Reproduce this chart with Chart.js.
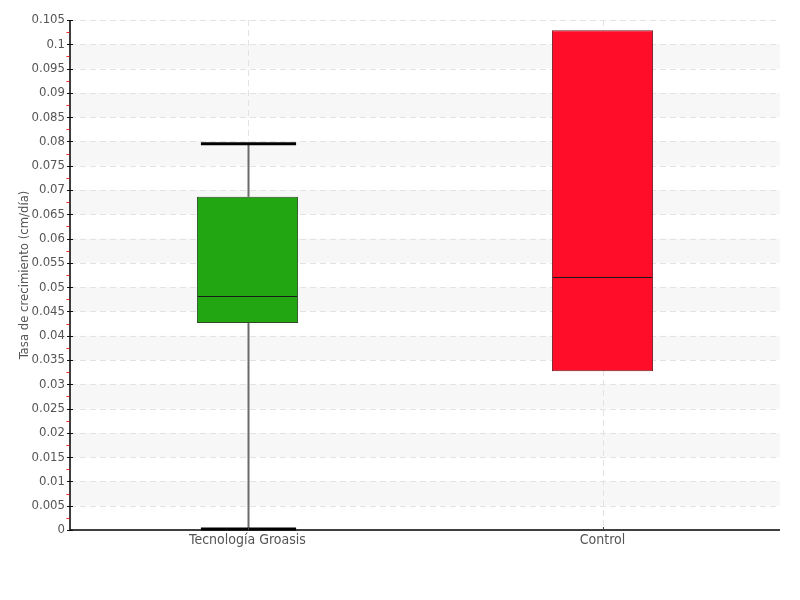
<!DOCTYPE html>
<html>
<head>
<meta charset="utf-8">
<script src="https://cdn.jsdelivr.net/npm/chart.js@4"></script>
<style>
html,body{margin:0;padding:0;background:#fff;}
#wrap{width:800px;height:600px;}
</style>
</head>
<body>
<div id="wrap"><canvas id="c" width="800" height="600"></canvas></div>
<script>
const categories = ["Tecnología Groasis", "Control"];
const q1Values = [0.0426, 0.0327];
const q3Values = [0.0686, 0.1029];
const medianValues = [0.0482, 0.0521];
const whiskerLow = [0.0002, 0.0327];
const whiskerHigh = [0.0795, 0.1029];
const boxColors = ["#22a611", "#ff0d29"];
const boxBorders = ["#2b4a25", "#6e1a22"];
const yTickValues = [0, 0.005, 0.01, 0.015, 0.02, 0.025, 0.03, 0.035, 0.04, 0.045, 0.05, 0.055, 0.06, 0.065, 0.07, 0.075, 0.08, 0.085, 0.09, 0.095, 0.1, 0.105];
const yTitle = "Tasa de crecimiento (cm/día)";

const FONT = "'DejaVu Sans Condensed', 'Liberation Sans Narrow', sans-serif";

const boxPlugin = {
  id: 'boxExtras',
  beforeDatasetsDraw(chart) {
    const {ctx, chartArea: a, scales: {x, y}} = chart;
    ctx.save();
    ctx.fillStyle = '#f7f7f7';
    for (let i = 1; i < yTickValues.length - 1; i += 2) {
      const yb = y.getPixelForValue(yTickValues[i]);
      const yt = y.getPixelForValue(yTickValues[i + 1]);
      ctx.fillRect(a.left, yt, a.right - a.left, yb - yt);
    }
    ctx.strokeStyle = '#e3e3e3';
    ctx.lineWidth = 1;
    ctx.setLineDash([6, 4]);
    for (let i = 1; i < yTickValues.length; i++) {
      const py = Math.round(y.getPixelForValue(yTickValues[i])) + 0.5;
      ctx.beginPath(); ctx.moveTo(a.left, py); ctx.lineTo(a.right, py); ctx.stroke();
    }
    categories.forEach((c, i) => {
      const px = Math.round(x.getPixelForValue(i)) + 0.5;
      ctx.beginPath(); ctx.moveTo(px, a.top); ctx.lineTo(px, a.bottom); ctx.stroke();
    });
    ctx.setLineDash([]);
    const meta = chart.getDatasetMeta(0);
    categories.forEach((c, i) => {
      const bar = meta.data[i];
      const cx = Math.round(x.getPixelForValue(i)) + 0.5;
      const yLo = y.getPixelForValue(whiskerLow[i]);
      const yHi = y.getPixelForValue(whiskerHigh[i]);
      const yQ1 = y.getPixelForValue(q1Values[i]);
      const yQ3 = y.getPixelForValue(q3Values[i]);
      ctx.strokeStyle = '#6a6a6a';
      ctx.lineWidth = 2;
      if (yHi < yQ3 - 1) { ctx.beginPath(); ctx.moveTo(cx, yHi); ctx.lineTo(cx, yQ3); ctx.stroke(); }
      if (yLo > yQ1 + 1) { ctx.beginPath(); ctx.moveTo(cx, yQ1); ctx.lineTo(cx, yLo); ctx.stroke(); }
      const half = bar.width / 2 - 3;
      ctx.strokeStyle = '#000';
      ctx.lineWidth = 3;
      if (yHi < yQ3 - 1) { ctx.beginPath(); ctx.moveTo(cx - half, yHi); ctx.lineTo(cx + half, yHi); ctx.stroke(); }
      if (yLo > yQ1 + 1) { ctx.beginPath(); ctx.moveTo(cx - half, yLo); ctx.lineTo(cx + half, yLo); ctx.stroke(); }
    });
    ctx.restore();
  },
  afterDatasetsDraw(chart) {
    const {ctx, chartArea: a, scales: {x, y}} = chart;
    const meta = chart.getDatasetMeta(0);
    ctx.save();
    categories.forEach((c, i) => {
      const bar = meta.data[i];
      const py = Math.round(y.getPixelForValue(medianValues[i])) + 0.5;
      ctx.strokeStyle = '#1a1a1a';
      ctx.lineWidth = 1;
      ctx.beginPath(); ctx.moveTo(bar.x - bar.width / 2 + 1, py); ctx.lineTo(bar.x + bar.width / 2 - 1, py); ctx.stroke();
    });
    ctx.strokeStyle = '#000';
    ctx.lineWidth = 1.5;
    ctx.beginPath();
    ctx.moveTo(a.left, a.top); ctx.lineTo(a.left, a.bottom); ctx.lineTo(a.right, a.bottom);
    ctx.stroke();
    ctx.lineWidth = 1;
    ctx.strokeStyle = '#111';
    yTickValues.forEach(v => {
      const py = Math.round(y.getPixelForValue(v)) + 0.5;
      ctx.beginPath(); ctx.moveTo(a.left - 3, py); ctx.lineTo(a.left + 3, py); ctx.stroke();
    });
    ctx.strokeStyle = '#ff2020';
    for (let i = 0; i < yTickValues.length - 1; i++) {
      const py = Math.round(y.getPixelForValue((yTickValues[i] + yTickValues[i + 1]) / 2)) + 0.5;
      ctx.beginPath(); ctx.moveTo(a.left - 3.5, py); ctx.lineTo(a.left - 0.7, py); ctx.stroke();
    }
    ctx.strokeStyle = '#444';
    categories.forEach((c, i) => {
      const px = Math.round(x.getPixelForValue(i)) + 0.5;
      ctx.beginPath(); ctx.moveTo(px, a.bottom - 3); ctx.lineTo(px, a.bottom); ctx.stroke();
    });
    ctx.restore();
  }
};

new Chart(document.getElementById('c'), {
  type: 'bar',
  data: {
    labels: categories,
    datasets: [{
      data: categories.map((c, i) => [q1Values[i], q3Values[i]]),
      backgroundColor: boxColors,
      borderColor: boxBorders,
      borderWidth: 1,
      borderSkipped: false,
      barPercentage: 0.285,
      categoryPercentage: 1
    }]
  },
  options: {
    responsive: false,
    animation: false,
    layout: {padding: {top: 20, right: 20, left: 17, bottom: 0}},
    plugins: {legend: {display: false}, tooltip: {enabled: false}},
    scales: {
      x: {
        grid: {display: false, drawTicks: false},
        border: {display: false},
        ticks: {color: '#555', font: {family: FONT, size: 14}, padding: 2},
        afterFit(s) { s.height = 70; }
      },
      y: {
        min: 0, max: 0.105,
        afterBuildTicks(s) { s.ticks = yTickValues.map(v => ({value: v})); },
        grid: {display: false, drawTicks: false},
        border: {display: false},
        ticks: {
          color: '#555', font: {family: FONT, size: 13}, padding: 5,
          callback: v => String(parseFloat(Number(v).toFixed(3)))
        },
        title: {display: true, text: yTitle, color: '#555', font: {family: FONT, size: 13}, padding: 0},
        afterFit(s) { s.width = 53; }
      }
    }
  },
  plugins: [boxPlugin]
});
</script>
</body>
</html>
